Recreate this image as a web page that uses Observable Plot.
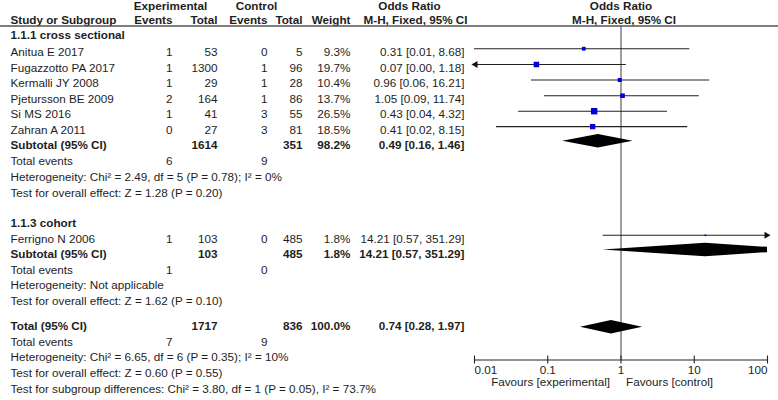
<!DOCTYPE html>
<html><head><meta charset="utf-8">
<script src="https://cdn.jsdelivr.net/npm/d3@7"></script>
<script src="https://cdn.jsdelivr.net/npm/@observablehq/plot@0.6"></script>
<style>
body{margin:0;background:#fff}
#chart{position:relative;width:778px;height:400px;background:#fff}
#chart svg{position:absolute;left:0;top:0;background:transparent}
</style></head><body><div id="chart"></div>
<script>
// ---------- data ----------
const groups = ["1.1.1 cross sectional", "1.1.3 cohort"];
const studies = ["Anitua E 2017","Fugazzotto PA 2017","Kermalli JY 2008","Pjetursson BE 2009","Si MS 2016","Zahran A 2011","Ferrigno N 2006"];
const expEvents = [1,1,1,2,1,0,1];
const expTotal = [53,1300,29,164,41,27,103];
const ctlEvents = [0,1,1,1,3,3,0];
const ctlTotal = [5,96,28,86,55,81,485];
const weights = [9.3,19.7,10.4,13.7,26.5,18.5,1.8];
const orEst = [0.31,0.07,0.96,1.05,0.43,0.41,14.21];
const orLo = [0.01,0.00,0.06,0.09,0.04,0.02,0.57];
const orHi = [8.68,1.18,16.21,11.74,4.32,8.15,351.29];

const pooledLabels = ["Subtotal (95% CI)","Subtotal (95% CI)","Total (95% CI)"];
const pooledExpTotal = [1614,103,1717];
const pooledCtlTotal = [351,485,836];
const pooledWeight = [98.2,1.8,100.0];
const pooledOr = [0.49,14.21,0.74];
const pooledLo = [0.16,0.57,0.28];
const pooledHi = [1.46,351.29,1.97];
const pooledExpEvents = [6,1,7];
const pooledCtlEvents = [9,0,9];
const heterogeneity = ["Heterogeneity: Chi\u00b2 = 2.49, df = 5 (P = 0.78); I\u00b2 = 0%","Heterogeneity: Not applicable","Heterogeneity: Chi\u00b2 = 6.65, df = 6 (P = 0.35); I\u00b2 = 10%"];
const overallEffect = ["Test for overall effect: Z = 1.28 (P = 0.20)","Test for overall effect: Z = 1.62 (P = 0.10)","Test for overall effect: Z = 0.60 (P = 0.55)"];
const subgroupTest = "Test for subgroup differences: Chi\u00b2 = 3.80, df = 1 (P = 0.05), I\u00b2 = 73.7%";
const axisTicks = [0.01,0.1,1,10,100];
const axisTickLabels = ["0.01","0.1","1","10","100"];
const favoursLabels = ["Favours [experimental]","Favours [control]"];
const headerGroups = ["Experimental","Control"];
const headerCols = ["Events","Total","Events","Total","Weight"];
const headerOR = ["Odds Ratio","M-H, Fixed, 95% CI"];
const headerStudy = "Study or Subgroup";

// ---------- layout ----------
const W = 778, H = 400;
const FONT = "'Liberation Sans', Arial, Helvetica, sans-serif";
const FS = 11.7;
const INK = "#1e1e1e";
const col = {name: 10, expEv: 172, expTot: 217, ctlEv: 267, ctlTot: 302, weight: 350, ci: 464, orHead: 415};
const headerColX = [col.expEv, col.expTot, col.ctlEv, col.ctlTot, col.weight];
const headerGroupX = [170, 256];
const headY1 = 6, headY2 = 20, headRuleY = 25.5;
const studyY = [51.7,67.5,83,98.7,114.2,129.6,238.3];
const groupY = [35,222.7];
const pooledY = [144.3,253.3,326];
const eventsY = [161,269.3,341.7];
const hetY = [176.7,285,356.9];
const effectY = [192.5,300.5,372.5];
const subgroupY = 388.3;
const forestOffset = -3.5;
const forestPooledY = [140.7,249.5,326.7];
const diamondHalf = 6.8;
const axisY = 359.5, tickLabelY = 369.5, favoursY = 381.5;
const fmtPct = d => d.toFixed(1) + "%";
const fmtCI = (e,l,h) => `${e.toFixed(2)} [${l.toFixed(2)}, ${h.toFixed(2)}]`;

const sIdx = d3.range(studies.length);
const pIdx = d3.range(pooledLabels.length);
const txt = (data, o) => Plot.text(data, {fontSize: FS, fill: INK, ...o});

// ---------- table plot ----------
const table = Plot.plot({
  width: W, height: H, margin: 0,
  style: {fontFamily: FONT, background: "transparent"},
  x: {type: "identity", axis: null},
  y: {type: "identity", axis: null},
  marks: [
    // header
    txt(headerGroups, {x: (d,i) => headerGroupX[i], y: () => headY1, text: d => d, fontWeight: "bold", textAnchor: "middle"}),
    txt([headerOR[0]], {x: () => col.orHead - 6, y: () => headY1, text: d => d, fontWeight: "bold", textAnchor: "middle"}),
    txt([headerOR[1]], {x: () => col.orHead, y: () => headY2, text: d => d, fontWeight: "bold", textAnchor: "middle"}),
    txt([headerStudy], {x: () => col.name, y: () => headY2, text: d => d, fontWeight: "bold", textAnchor: "start"}),
    txt(headerCols, {x: (d,i) => headerColX[i], y: () => headY2, text: d => d, fontWeight: "bold", textAnchor: "end"}),
    Plot.ruleY([headRuleY], {x1: 0, x2: W, stroke: "#555", strokeWidth: 1.6}),
    // group labels
    txt(groups, {x: () => col.name, y: (d,i) => groupY[i], text: d => d, fontWeight: "bold", textAnchor: "start"}),
    // study rows
    txt(sIdx, {x: () => col.name, y: i => studyY[i], text: i => studies[i], textAnchor: "start"}),
    txt(sIdx, {x: () => col.expEv, y: i => studyY[i], text: i => String(expEvents[i]), textAnchor: "end"}),
    txt(sIdx, {x: () => col.expTot, y: i => studyY[i], text: i => String(expTotal[i]), textAnchor: "end"}),
    txt(sIdx, {x: () => col.ctlEv, y: i => studyY[i], text: i => String(ctlEvents[i]), textAnchor: "end"}),
    txt(sIdx, {x: () => col.ctlTot, y: i => studyY[i], text: i => String(ctlTotal[i]), textAnchor: "end"}),
    txt(sIdx, {x: () => col.weight, y: i => studyY[i], text: i => fmtPct(weights[i]), textAnchor: "end"}),
    txt(sIdx, {x: () => col.ci, y: i => studyY[i], text: i => fmtCI(orEst[i], orLo[i], orHi[i]), textAnchor: "end"}),
    // pooled rows
    txt(pIdx, {x: () => col.name, y: i => pooledY[i], text: i => pooledLabels[i], fontWeight: "bold", textAnchor: "start"}),
    txt(pIdx, {x: () => col.expTot, y: i => pooledY[i], text: i => String(pooledExpTotal[i]), fontWeight: "bold", textAnchor: "end"}),
    txt(pIdx, {x: () => col.ctlTot, y: i => pooledY[i], text: i => String(pooledCtlTotal[i]), fontWeight: "bold", textAnchor: "end"}),
    txt(pIdx, {x: () => col.weight, y: i => pooledY[i], text: i => fmtPct(pooledWeight[i]), fontWeight: "bold", textAnchor: "end"}),
    txt(pIdx, {x: () => col.ci, y: i => pooledY[i], text: i => fmtCI(pooledOr[i], pooledLo[i], pooledHi[i]), fontWeight: "bold", textAnchor: "end"}),
    // total events
    txt(pIdx, {x: () => col.name, y: i => eventsY[i], text: () => "Total events", textAnchor: "start"}),
    txt(pIdx, {x: () => col.expEv, y: i => eventsY[i], text: i => String(pooledExpEvents[i]), textAnchor: "end"}),
    txt(pIdx, {x: () => col.ctlEv, y: i => eventsY[i], text: i => String(pooledCtlEvents[i]), textAnchor: "end"}),
    // heterogeneity & tests
    txt(pIdx, {x: () => col.name, y: i => hetY[i], text: i => heterogeneity[i], textAnchor: "start"}),
    txt(pIdx, {x: () => col.name, y: i => effectY[i], text: i => overallEffect[i], textAnchor: "start"}),
    txt([subgroupTest], {x: () => col.name, y: () => subgroupY, text: d => d, textAnchor: "start"})
  ]
});

// ---------- forest plot ----------
const xMin = axisTicks[0], xMax = axisTicks[axisTicks.length - 1];
const diamonds = pIdx.flatMap(i => [
  {k: i, y: forestPooledY[i] - diamondHalf, x1: pooledOr[i], x2: pooledOr[i]},
  {k: i, y: forestPooledY[i], x1: pooledLo[i], x2: pooledHi[i]},
  {k: i, y: forestPooledY[i] + diamondHalf, x1: pooledOr[i], x2: pooledOr[i]}
]);
const leftArrows = sIdx.filter(i => orLo[i] < xMin);
const rightArrows = sIdx.filter(i => orHi[i] > xMax);

const forest = Plot.plot({
  width: W, height: H,
  marginLeft: 474, marginRight: 11, marginTop: 0, marginBottom: 0,
  style: {fontFamily: FONT, background: "transparent"},
  x: {type: "log", domain: [xMin, xMax], axis: null},
  y: {type: "identity", axis: null},
  r: {type: "sqrt", domain: [0, d3.max(weights)], range: [0, 3.6]},
  marks: [
    // header
    txt([headerOR[0]], {x: () => 1, y: () => headY1, text: d => d, fontWeight: "bold", textAnchor: "middle"}),
    txt([headerOR[1]], {x: () => 1, y: () => headY2, text: d => d, fontWeight: "bold", textAnchor: "middle", dx: 3}),
    // line of no effect
    Plot.ruleX([1], {y1: headRuleY, y2: axisY, stroke: "#6a6a6a", strokeWidth: 1.3}),
    // confidence intervals
    Plot.ruleY(sIdx, {y: i => studyY[i] + forestOffset, x1: i => Math.max(orLo[i], xMin), x2: i => Math.min(orHi[i], xMax), stroke: "#222", strokeWidth: 1.1}),
    Plot.dot(leftArrows, {x: () => xMin, y: i => studyY[i] + forestOffset, symbol: "triangle", rotate: -90, r: 2.6, fill: "#111", stroke: "none", dx: 1}),
    Plot.dot(rightArrows, {x: () => xMax, y: i => studyY[i] + forestOffset, symbol: "triangle", rotate: 90, r: 2.6, fill: "#111", stroke: "none", dx: -1}),
    // study squares
    Plot.dot(sIdx, {x: i => orEst[i], y: i => studyY[i] + forestOffset, r: i => weights[i], symbol: "square", fill: "#0000dd", stroke: "none"}),
    // diamonds
    Plot.areaX(diamonds, {y: "y", x1: "x1", x2: "x2", z: "k", fill: "#000", clip: true}),
    // axis
    Plot.ruleY([axisY], {x1: () => xMin, x2: () => xMax, stroke: "#222", strokeWidth: 1.1}),
    Plot.ruleX(axisTicks, {x: d => d, y1: () => axisY - 4, y2: () => axisY + 4, stroke: "#222", strokeWidth: 1.1}),
    txt([0], {x: () => axisTicks[0], y: () => tickLabelY, text: () => axisTickLabels[0], textAnchor: "start"}),
    txt(d3.range(1, axisTicks.length - 1), {x: i => axisTicks[i], y: () => tickLabelY, text: i => axisTickLabels[i], textAnchor: "middle"}),
    txt([axisTicks.length - 1], {x: () => xMax, y: () => tickLabelY, text: i => axisTickLabels[i], textAnchor: "end"}),
    txt([favoursLabels[0]], {x: () => 1, y: () => favoursY, text: d => d, textAnchor: "end", dx: -11}),
    txt([favoursLabels[1]], {x: () => 1, y: () => favoursY, text: d => d, textAnchor: "start", dx: 5})
  ]
});

const chart = document.getElementById("chart");
chart.appendChild(table);
chart.appendChild(forest);
</script>
</body></html>
